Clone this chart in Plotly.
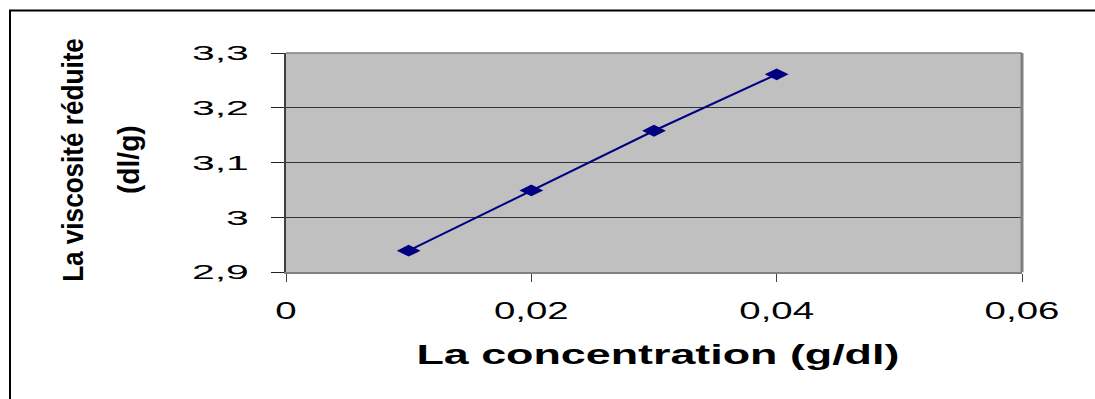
import plotly.graph_objects as go

# Data
concentration = [0.01, 0.02, 0.03, 0.04]
viscosite_reduite = [2.939, 3.049, 3.158, 3.261]

x_ticks = [0, 0.02, 0.04, 0.06]
y_ticks = [2.9, 3.0, 3.1, 3.2, 3.3]

x_title = "La concentration (g/dl)"
y_title_line1 = "La viscosité réduite"
y_title_line2 = "(dl/g)"

FONT = "Arial, 'Liberation Sans', sans-serif"
NAVY = "#000080"

fig = go.Figure()
fig.add_trace(go.Scatter(
    x=concentration, y=viscosite_reduite,
    mode="lines+markers",
    line=dict(color=NAVY, width=2),
    marker=dict(symbol="diamond-wide", size=17, color=NAVY, line=dict(width=0)),
    showlegend=False, hoverinfo="skip",
))

fig.update_layout(
    width=1095, height=399,
    margin=dict(l=286, r=73, t=53, b=127),
    paper_bgcolor="white",
    plot_bgcolor="#C0C0C0",
    separators=", ",
    font=dict(family=FONT, color="black"),
    xaxis=dict(
        range=[0, 0.06], tickvals=x_ticks, tickformat="~g",
        showgrid=False, zeroline=False,
        showline=True, linecolor="#808080", linewidth=2,
        ticks="outside", ticklen=8, tickcolor="#404040", tickwidth=1,
        tickfont=dict(size=24, family=FONT, color="black"),
        ticklabelstandoff=8,
    ),
    yaxis=dict(
        range=[2.9, 3.3], tickvals=y_ticks, tickformat="~g",
        showgrid=True, gridcolor="#333333", gridwidth=1,
        zeroline=False,
        showline=True, linecolor="#404040", linewidth=2,
        ticks="outside", ticklen=13, tickcolor="#222222", tickwidth=1,
        tickfont=dict(size=21, family=FONT, color="black"),
        ticklabelstandoff=18,
    ),
    annotations=[
        dict(text="<b>" + y_title_line1 + "</b>", xref="paper", yref="paper",
             x=-0.2908, y=0.511, textangle=-90, showarrow=False,
             font=dict(size=30, family=FONT, color="black"),
             xanchor="center", yanchor="middle"),
        dict(text="<b>" + y_title_line2 + "</b>", xref="paper", yref="paper",
             x=-0.2133, y=0.511, textangle=-90, showarrow=False,
             font=dict(size=29, family=FONT, color="black"),
             xanchor="center", yanchor="middle"),
        dict(text="<b>" + x_title + "</b>", xref="paper", yref="paper",
             x=0.505, y=-0.377, showarrow=False,
             font=dict(size=28, family=FONT, color="black"),
             xanchor="center", yanchor="middle"),
    ],
    shapes=[
        # outer chart frame
        dict(type="rect", xref="paper", yref="paper",
             x0=-0.375, x1=1.3, y0=-0.8, y1=1.194,
             line=dict(color="black", width=2), fillcolor="rgba(0,0,0,0)", layer="below"),
        # top border of plot area
        dict(type="line", xref="paper", yref="paper", x0=0, x1=1, y0=1, y1=1,
             line=dict(color="#808080", width=1.5)),
        # right border of plot area
        dict(type="line", xref="paper", yref="paper", x0=1, x1=1, y0=0, y1=1,
             line=dict(color="#808080", width=3)),
    ],
)

post_script = """
var gd = document.getElementById('{plot_id}');
function fit(t, k){
  if (t.getAttribute('data-stretched')) return;
  var w = t.getComputedTextLength();
  if (w > 0) {
    t.setAttribute('textLength', (w * k).toFixed(1));
    t.setAttribute('lengthAdjust', 'spacingAndGlyphs');
    t.setAttribute('data-stretched', '1');
  }
}
function doStretch(){
  gd.querySelectorAll('.xtick text').forEach(function(t){ fit(t, 1.6); });
  gd.querySelectorAll('.ytick text').forEach(function(t){ fit(t, 1.95); });
  gd.querySelectorAll('.annotation-text').forEach(function(t){
    var s = t.textContent;
    if (s.indexOf('concentration') >= 0) fit(t, 1.6);
    else if (s.indexOf('viscosit') >= 0) fit(t, 0.87);
    else if (s.indexOf('dl/g') >= 0) fit(t, 0.97);
  });
}
doStretch();
setTimeout(doStretch, 50);
if (gd.on) { gd.on('plotly_afterplot', function(){ setTimeout(doStretch, 0); }); }
"""

fig.write_html("out.html", post_script=post_script)
